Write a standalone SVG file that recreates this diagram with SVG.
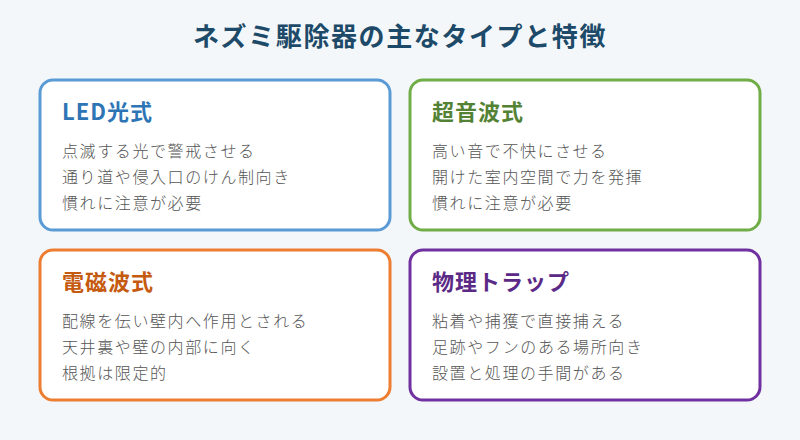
<svg xmlns="http://www.w3.org/2000/svg" width="800" height="440" viewBox="0 0 800 440">
<style>
.bg{fill:#f3f7fa}
.card{fill:#ffffff;stroke-width:3}
.h{font-family:"Noto Sans CJK JP","Noto Sans",sans-serif;font-weight:700;font-size:22px;letter-spacing:1px}
.t{font-family:"Noto Sans CJK JP","Noto Sans",sans-serif;font-weight:300;font-size:16px;fill:#555555;letter-spacing:1.6px}
.title{font-family:"Noto Sans CJK JP","Noto Sans",sans-serif;font-weight:700;font-size:26px;fill:#1d4a68;letter-spacing:1.6px}
</style>
<rect class="bg" x="0" y="0" width="800" height="440"/>
<text class="title" x="400" y="46" text-anchor="middle">ネズミ駆除器の主なタイプと特徴</text>
<g id="led">
<rect class="card" x="40" y="80" width="350" height="150" rx="13" stroke="#5b9bd5"/>
<text class="h" x="62" y="120" fill="#2e75b6">LED光式</text>
<text class="t" x="62" y="157">点滅する光で警戒させる</text>
<text class="t" x="62" y="183">通り道や侵入口のけん制向き</text>
<text class="t" x="62" y="209">慣れに注意が必要</text>
</g>
<g id="ultrasonic">
<rect class="card" x="410" y="80" width="350" height="150" rx="13" stroke="#70ad47"/>
<text class="h" x="432" y="120" fill="#548235">超音波式</text>
<text class="t" x="432" y="157">高い音で不快にさせる</text>
<text class="t" x="432" y="183">開けた室内空間で力を発揮</text>
<text class="t" x="432" y="209">慣れに注意が必要</text>
</g>
<g id="em">
<rect class="card" x="40" y="250" width="350" height="150" rx="13" stroke="#ed7d31"/>
<text class="h" x="62" y="290" fill="#c55a11">電磁波式</text>
<text class="t" x="62" y="327">配線を伝い壁内へ作用とされる</text>
<text class="t" x="62" y="353">天井裏や壁の内部に向く</text>
<text class="t" x="62" y="379">根拠は限定的</text>
</g>
<g id="trap">
<rect class="card" x="410" y="250" width="350" height="150" rx="13" stroke="#7030a0"/>
<text class="h" x="432" y="290" fill="#5b2a86">物理トラップ</text>
<text class="t" x="432" y="327">粘着や捕獲で直接捕える</text>
<text class="t" x="432" y="353">足跡やフンのある場所向き</text>
<text class="t" x="432" y="379">設置と処理の手間がある</text>
</g>
<g id="connectors"></g>
</svg>
